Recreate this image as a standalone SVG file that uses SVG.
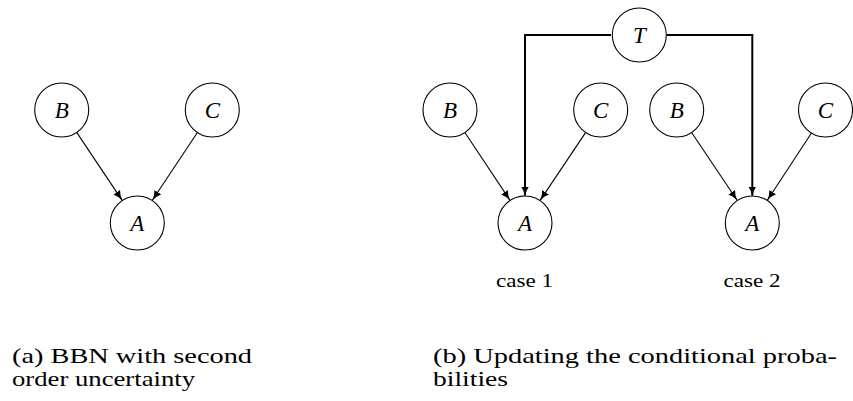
<svg xmlns="http://www.w3.org/2000/svg" width="853" height="401" viewBox="0 0 853 401">
  <style>
    .node circle { fill: #fff; stroke: #000; stroke-width: 1.1; }
    .node text { font-family: "Liberation Serif", serif; font-style: italic; font-size: 23px; text-anchor: middle; fill: #000; }
    .edge { stroke: #000; stroke-width: 1.1; fill: none; }
    .edge.thick { stroke-width: 2; }
    .label { font-family: "Liberation Serif", serif; font-size: 19px; fill: #000; }
    .caption { font-family: "Liberation Serif", serif; font-size: 22px; fill: #000; }
  </style>
  <defs>
    <marker id="arrow" markerUnits="userSpaceOnUse" markerWidth="12" markerHeight="10" refX="10" refY="4" orient="auto">
      <path d="M0,0 Q4,3 10,4 Q4,5 0,8 Z" fill="#000"/>
    </marker>
    <marker id="arrowBold" markerUnits="userSpaceOnUse" markerWidth="12" markerHeight="10" refX="9" refY="4" orient="auto">
      <path d="M0,0 Q4,3 10,4 Q4,5 0,8 Z" fill="#000"/>
    </marker>
  </defs>

  <!-- connectors -->
  <g id="edges">
    <!-- left network -->
    <line class="edge" x1="76.7" y1="132.4" x2="122.3" y2="200.6" marker-end="url(#arrow)"/>
    <line class="edge" x1="197.4" y1="132.5" x2="152.2" y2="200.5" marker-end="url(#arrow)"/>
    <!-- case 1 -->
    <line class="edge" x1="464.9" y1="132.5" x2="510.1" y2="200.5" marker-end="url(#arrow)"/>
    <line class="edge" x1="585.7" y1="132.4" x2="540" y2="200.6" marker-end="url(#arrow)"/>
    <!-- case 2 -->
    <line class="edge" x1="691.6" y1="132.5" x2="737.3" y2="200.5" marker-end="url(#arrow)"/>
    <line class="edge" x1="811.8" y1="132.5" x2="767.2" y2="200.5" marker-end="url(#arrow)"/>
    <!-- T to both A nodes -->
    <polyline class="edge thick" points="611,35 525,35 525,195.5" marker-end="url(#arrowBold)"/>
    <polyline class="edge thick" points="667,35 752.3,35 752.3,195.5" marker-end="url(#arrowBold)"/>
  </g>

  <!-- left network nodes -->
  <g id="nodeB" class="node"><circle cx="61.7" cy="110" r="27"/><text x="61.7" y="118">B</text></g>
  <g id="nodeC" class="node"><circle cx="212.3" cy="110" r="27"/><text x="212.3" y="118">C</text></g>
  <g id="nodeA" class="node"><circle cx="137.3" cy="223" r="27"/><text x="137.3" y="231">A</text></g>

  <!-- shared T node -->
  <g id="nodeT" class="node"><circle cx="639.3" cy="35" r="27"/><text x="639.3" y="43">T</text></g>

  <!-- case 1 nodes -->
  <g id="nodeB1" class="node"><circle cx="450" cy="110" r="27"/><text x="450" y="118">B</text></g>
  <g id="nodeC1" class="node"><circle cx="600.7" cy="110" r="27"/><text x="600.7" y="118">C</text></g>
  <g id="nodeA1" class="node"><circle cx="525" cy="223" r="27"/><text x="525" y="231">A</text></g>

  <!-- case 2 nodes -->
  <g id="nodeB2" class="node"><circle cx="676.7" cy="110" r="27"/><text x="676.7" y="118">B</text></g>
  <g id="nodeC2" class="node"><circle cx="825.5" cy="110" r="27"/><text x="825.5" y="118">C</text></g>
  <g id="nodeA2" class="node"><circle cx="752.3" cy="223" r="27"/><text x="752.3" y="231">A</text></g>

  <!-- case labels -->
  <text class="label" x="496" y="286.5" textLength="57" lengthAdjust="spacingAndGlyphs">case 1</text>
  <text class="label" x="723.5" y="286.5" textLength="57" lengthAdjust="spacingAndGlyphs">case 2</text>

  <!-- sub-captions -->
  <text class="caption" x="12" y="363" textLength="240" lengthAdjust="spacingAndGlyphs">(a) BBN with second</text>
  <text class="caption" x="12" y="386" textLength="183" lengthAdjust="spacingAndGlyphs">order uncertainty</text>
  <text class="caption" x="433" y="363" textLength="404" lengthAdjust="spacingAndGlyphs">(b) Updating the conditional proba-</text>
  <text class="caption" x="433" y="386" textLength="75" lengthAdjust="spacingAndGlyphs">bilities</text>
</svg>
